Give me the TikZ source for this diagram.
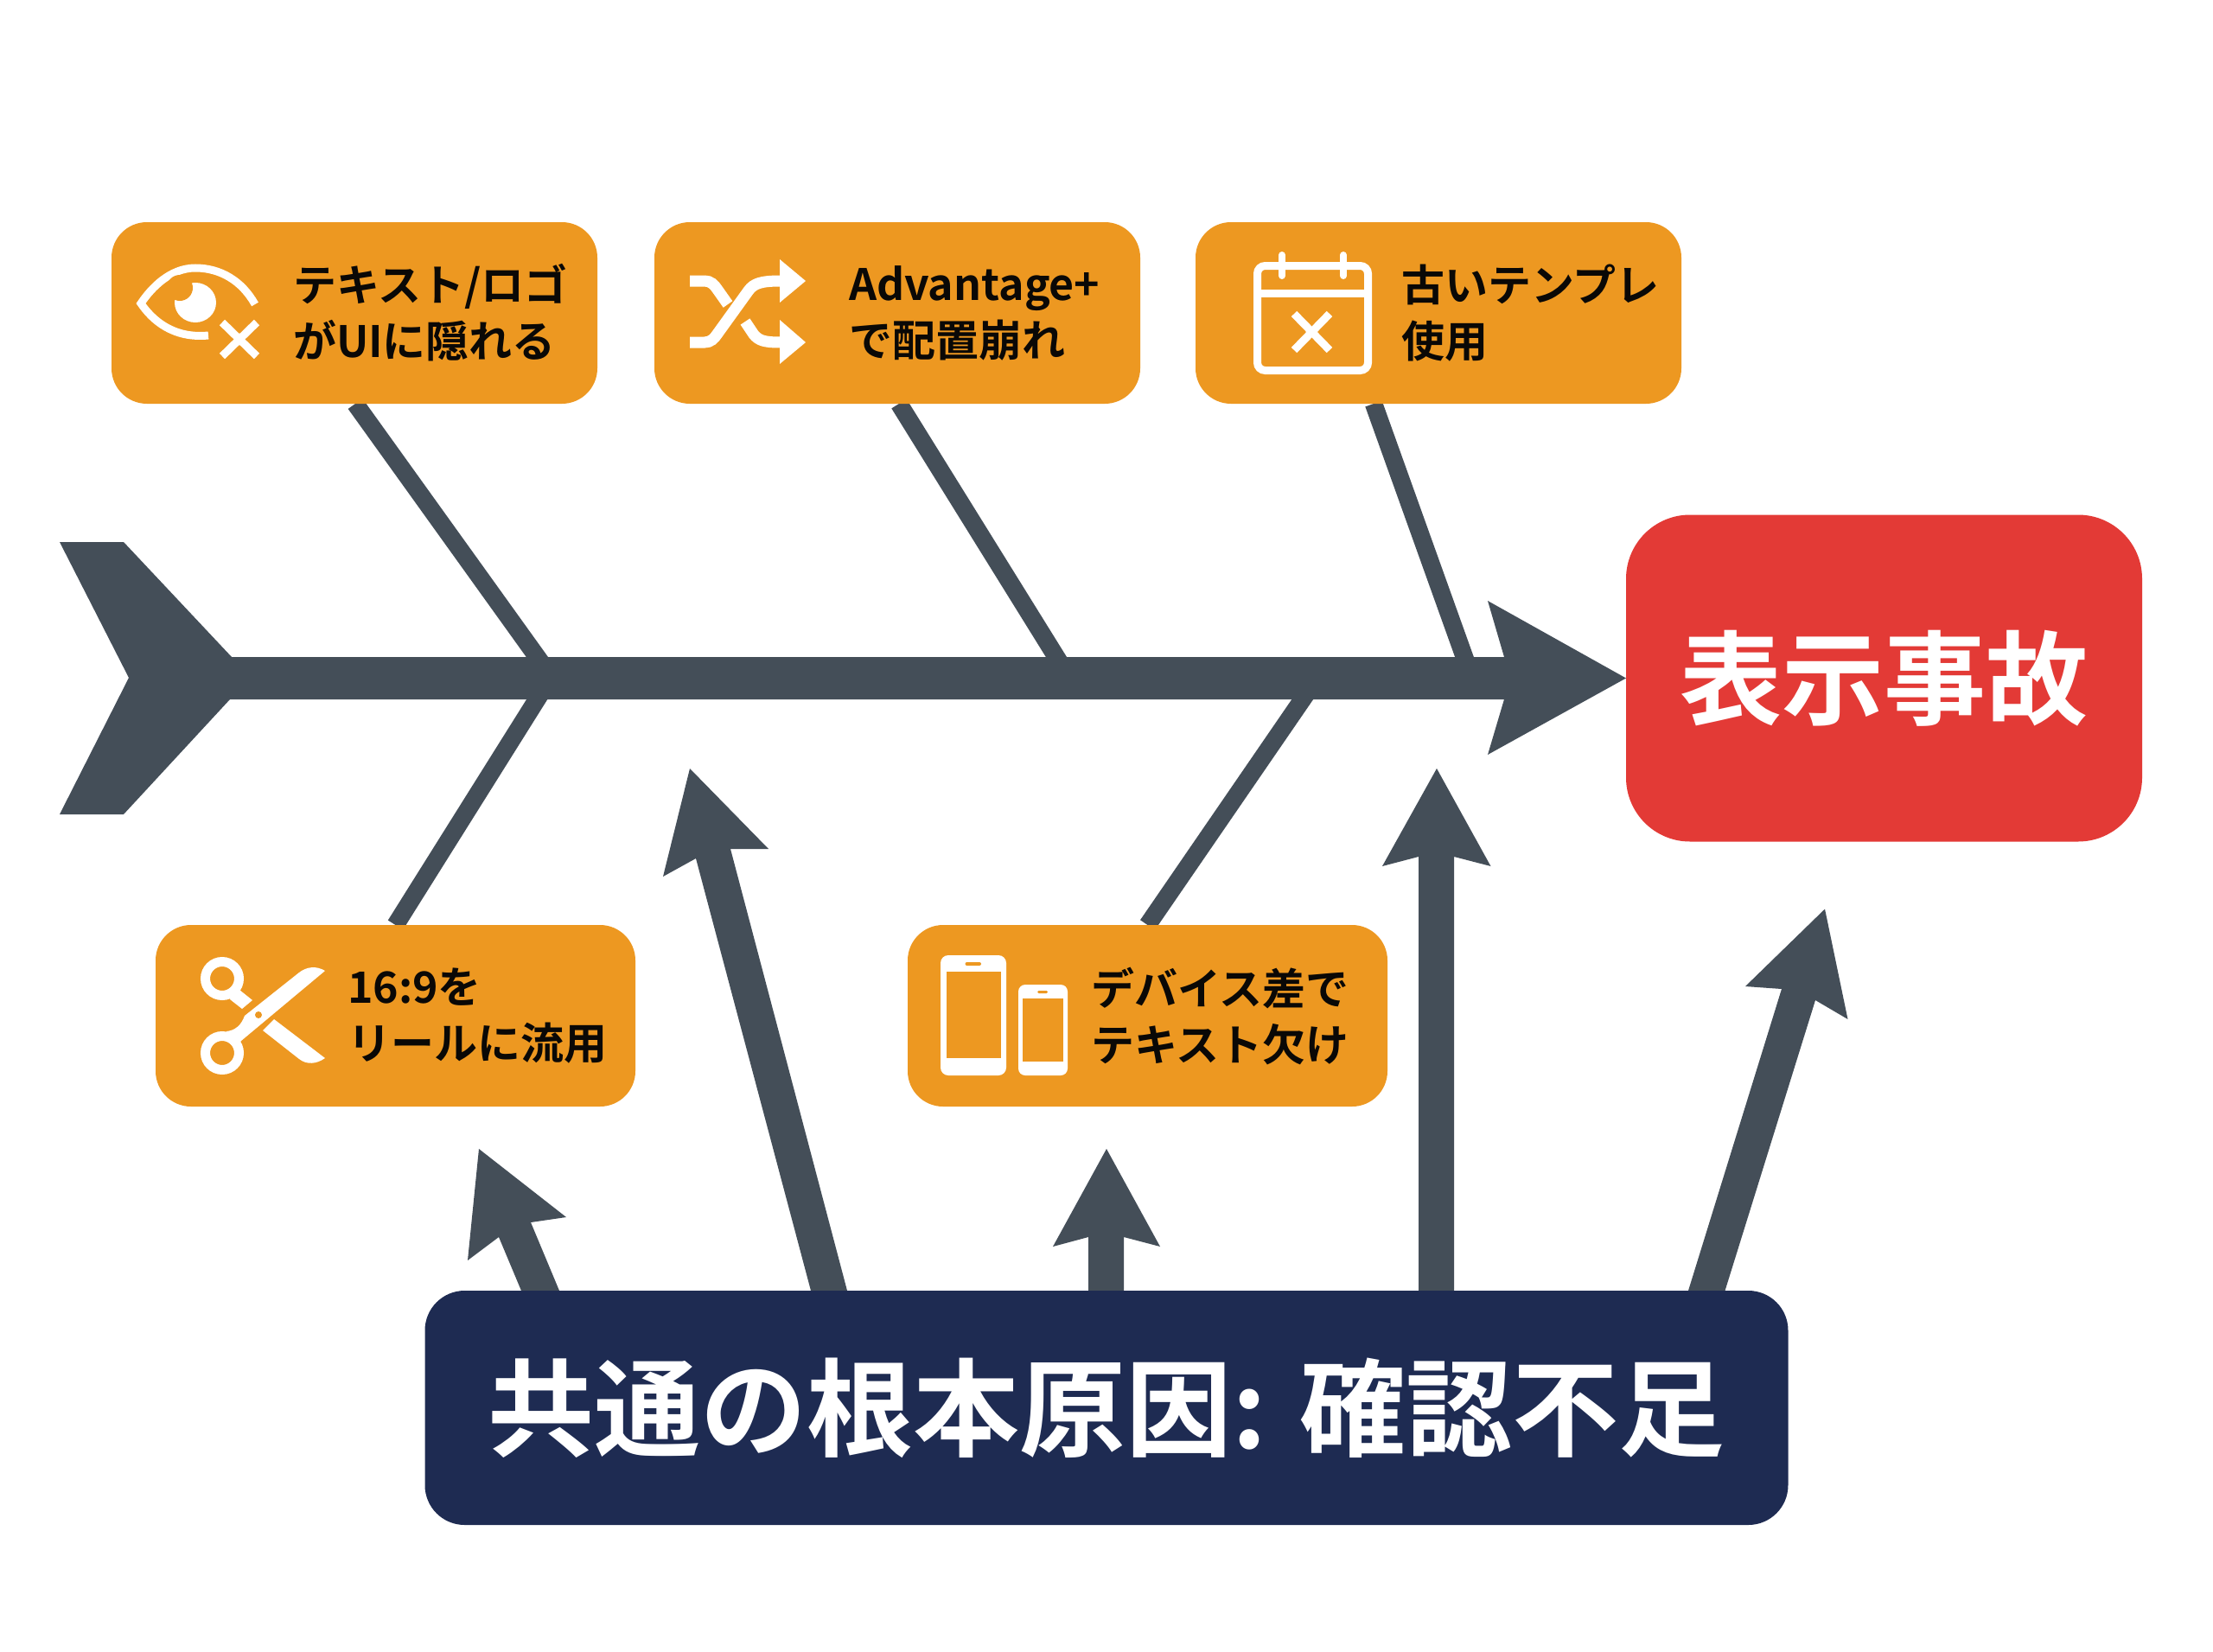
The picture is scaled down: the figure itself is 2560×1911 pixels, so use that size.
\documentclass[tikz,border=0pt]{standalone}
\usepackage{fontspec}
\usetikzlibrary{backgrounds}
\newfontfamily\cjkjp{Noto Sans CJK JP}[BoldFont={Noto Sans CJK JP Bold}]
\definecolor{orangebox}{RGB}{237,152,33}
\definecolor{slatebone}{RGB}{68,78,88}
\definecolor{redbox}{RGB}{227,58,54}
\definecolor{navybox}{RGB}{30,43,82}
\definecolor{inkblack}{RGB}{10,8,6}
\tikzset{
  causebox/.style={fill=orangebox,rounded corners=41pt,minimum width=#1,minimum height=210pt,inner sep=0pt,outer sep=0pt},
  causelabel/.style={anchor=west,align=left,inner sep=0pt,outer sep=0pt,text=inkblack,font=\cjkjp\bfseries\fontsize{50}{65}\selectfont},
  effectbox/.style={fill=redbox,rounded corners=74pt,minimum width=597pt,minimum height=378pt,inner sep=0pt,outer sep=0pt,text=white,font=\cjkjp\bfseries\fontsize{118}{130}\selectfont},
  rootbox/.style={fill=navybox,rounded corners=46pt,minimum width=1577pt,minimum height=271pt,inner sep=0pt,outer sep=0pt,text=white,font=\cjkjp\bfseries\fontsize{123}{135}\selectfont},
  bonebar/.style={draw=slatebone,line width=20.5pt},
  shapefill/.style={fill=slatebone},
  iconline/.style={draw=white,line width=9pt},
  iconfill/.style={fill=white},
  iconhole/.style={fill=orangebox}
}
\begin{document}
\begin{tikzpicture}[x=1pt,y=-1pt]
\useasboundingbox (0,0) rectangle (2560,1911);

% nodes
\node[causebox=562pt] (b1) at (410,362) {};
\node[causebox=562pt] (b2) at (1038,362) {};
\node[causebox=562pt] (b3) at (1664,362) {};
\node[causebox=555pt] (b4) at (457.5,1175) {};
\node[causebox=555pt] (b5) at (1327.5,1175) {};
\node[effectbox] (effect) at (2179.5,784.5) {表示事故};
\node[rootbox] (root) at (1280,1628.5) {共通の根本原因: 確認不足};

\node[causelabel] (t1) at (339,362) {テキスト/ロゴ\\がUIに隠れる};
\node[causelabel] (t2) at (982,362) {Advantage+\\で配置崩れ};
\node[causelabel] (t3) at (1621,362) {古いテンプレ\\使用};
\node[causelabel] (t4) at (402,1175) {16:9を\\リールに流用};
\node[causelabel] (t5) at (1262,1175) {デバイス差で\\テキスト欠け};

% junctions inside the spine
\coordinate (j1) at (630,772);
\coordinate (j2) at (1230,773);
\coordinate (j3) at (1699,774);
\coordinate (j4) at (630,795);
\coordinate (j5) at (1515,797);

% arrow tips
\coordinate (a1) at (554,1329);
\coordinate (a2) at (798,889);
\coordinate (a3) at (1280,1329);
\coordinate (a4) at (1662,889);
\coordinate (a5) at (2111,1051.5);

\begin{scope}[on background layer]
  \fill[white] (0,0) rectangle (2560,1911);
  % bones
  \draw[bonebar] ([xshift=1pt]b1.south) -- (j1);
  \draw[bonebar] ([xshift=2pt]b2.south) -- (j2);
  \draw[bonebar] ([xshift=-75pt]b3.south) -- (j3);
  \draw[bonebar] (b4.north) -- (j4);
  \draw[bonebar] (b5.north) -- (j5);
  % spine with tail and head
  \fill[shapefill] (69,627) -- (143,627) -- (268,760) -- (1740,760) -- (1721,695) -- (effect.west) -- (1721,873) -- (1740,809) -- (266,809) -- (143,942) -- (69,942) -- (149,784) -- cycle;
  % root-cause arrows
  \fill[shapefill] ([xshift=-677pt]root.north) -- (577,1431) -- (541,1458) -- (a1) -- (655,1408) -- (614,1414) -- ([xshift=-633pt]root.north) -- cycle;
  \fill[shapefill] ([xshift=-342pt]root.north) -- (805,993) -- (767,1014) -- (a2) -- (889,982) -- (845,982) -- ([xshift=-300pt]root.north) -- cycle;
  \fill[shapefill] ([xshift=-21pt]root.north) -- (1259,1431) -- (1218,1442) -- (a3) -- (1342,1442) -- (1300,1431) -- ([xshift=20pt]root.north) -- cycle;
  \fill[shapefill] ([xshift=361pt]root.north) -- (1641,991) -- (1599,1002) -- (a4) -- (1724.5,1002) -- (1682,991) -- ([xshift=402pt]root.north) -- cycle;
  \fill[shapefill] ([xshift=673pt]root.north) -- (2061,1144) -- (2019,1141) -- (a5) -- (2137.5,1179) -- (2100,1157) -- ([xshift=715.5pt]root.north) -- cycle;
\end{scope}

% eye icon
\draw[iconline] (295,352) .. controls (280,325) and (255,310) .. (226,310) .. controls (197,310) and (175,333) .. (163,351) .. controls (176,370) and (200,392) .. (241,388);
\fill[iconfill] (226,350) ellipse [x radius=24,y radius=23];
\fill[iconhole] (208,333) circle [radius=15];
\draw[iconline] (257,373) -- (297,412);
\draw[iconline] (297,373) -- (257,412);

% shuffle icon
\draw[draw=white,line width=13pt] (798,396) -- (815,396) .. controls (822,396) and (826,392) .. (830,386) -- (866,336) .. controls (872,328) and (880,325) .. (903,325);
\fill[iconfill] (902,300) -- (932,325) -- (902,350) -- cycle;
\draw[draw=white,line width=13pt] (798,325) -- (815,325) .. controls (822,325) and (826,329) .. (830,335) -- (842,352);
\draw[draw=white,line width=13pt] (862,372) -- (872,387) .. controls (878,394) and (884,396) .. (903,396);
\fill[iconfill] (902,370) -- (932,396) -- (902,421) -- cycle;

% calendar icon
\draw[iconline,rounded corners=9pt] (1454.5,307.5) rectangle (1582.5,428.5);
\draw[iconline] (1455,339) -- (1582,339);
\draw[iconline,line width=8pt,line cap=round] (1483,295) -- (1483,319);
\draw[iconline,line width=8pt,line cap=round] (1554,295) -- (1554,319);
\draw[iconline] (1497,363) -- (1538,405);
\draw[iconline] (1538,363) -- (1497,405);

% scissors icon
\draw[draw=white,line width=11pt] (257,1132) circle [radius=19.5];
\draw[draw=white,line width=11pt] (257,1218) circle [radius=19.5];
\fill[iconfill] (268,1150) -- (277,1145) -- (292,1157) -- (280,1167) -- (266,1156) -- cycle;
\fill[iconfill] (262,1193) .. controls (272,1192) and (279,1186) .. (283,1175) -- (346,1125) .. controls (355,1118) and (366,1117) .. (376,1123) -- (279,1204) -- (273,1212) -- cycle;
\fill[iconhole] (299,1174) circle [radius=4];
\fill[iconfill] (317,1179) -- (304,1192) -- (346,1225) .. controls (355,1232) and (366,1231) .. (376,1224) -- cycle;

% phones icon
\fill[iconfill,rounded corners=9pt] (1088,1105) rectangle (1164,1244);
\fill[iconhole] (1095,1124) rectangle (1157.5,1224);
\fill[iconhole,rounded corners=2pt] (1116.5,1113) rectangle (1135,1117);
\fill[iconfill,rounded corners=8pt] (1178,1139) rectangle (1235,1244);
\fill[iconhole] (1183,1155) rectangle (1230,1228);
\fill[iconhole,rounded corners=1.5pt] (1200,1146) rectangle (1212,1149);
\end{tikzpicture}
\end{document}
